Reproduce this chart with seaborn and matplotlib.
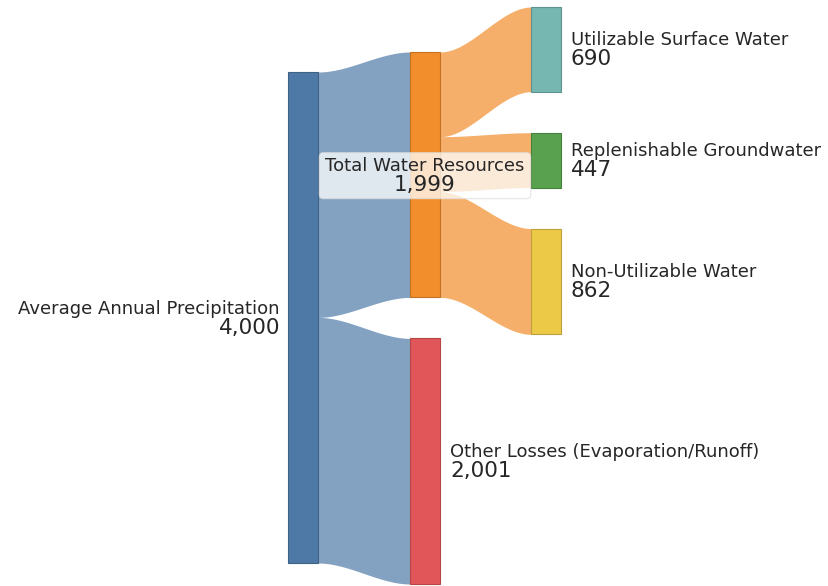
import matplotlib

matplotlib.use("Agg", force=True)

import matplotlib.pyplot as plt
import seaborn as sns
import numpy as np
from matplotlib.patches import FancyBboxPatch

# Sankey data
nodes = ["Average Annual Precipitation", "Total Water Resources",
         "Other Losses (Evaporation/Runoff)", "Utilizable Surface Water",
         "Replenishable Groundwater", "Non-Utilizable Water"]
node_column = [0, 1, 1, 2, 2, 2]
link_source = [0, 0, 1, 1, 1]
link_target = [1, 2, 3, 4, 5]
link_value = [1999, 2001, 690, 447, 862]

node_colors = ["#4e79a7", "#f28e2b", "#e15759", "#76b7b2", "#59a14f", "#edc948"]

sns.set_theme(style="white")
plt.rcParams["font.family"] = ["DejaVu Sans"]

fig = plt.figure(figsize=(8.29, 5.86), dpi=100)
ax = fig.add_axes([0, 0, 1, 1])
ax.set_xlim(0, 829)
ax.set_ylim(586, 0)
ax.axis("off")

# layout (pixel space)
k = 491 / 4000.0          # pixels per unit
col_x = [288, 410, 531]
col_top = [72, 52, 7]
node_w = 30
gap = 41

n = len(nodes)
val_in = np.zeros(n)
val_out = np.zeros(n)
for s, t, v in zip(link_source, link_target, link_value):
    val_out[s] += v
    val_in[t] += v
node_val = np.maximum(val_in, val_out)

node_y = np.zeros(n)
node_h = node_val * k
cursor = list(col_top)
for i in range(n):
    c = node_column[i]
    node_y[i] = cursor[c]
    cursor[c] += node_h[i] + gap


def darker(col, f=0.8):
    r, g, b = matplotlib.colors.to_rgb(col)
    return (r * f, g * f, b * f)


# links
src_off = np.zeros(n)
tgt_off = np.zeros(n)
for s, t, v in zip(link_source, link_target, link_value):
    h = v * k
    x0 = col_x[node_column[s]] + node_w
    x1 = col_x[node_column[t]]
    y0 = node_y[s] + src_off[s]
    y1 = node_y[t] + tgt_off[t]
    src_off[s] += h
    tgt_off[t] += h
    xs = np.linspace(x0, x1, 100)
    tt = (xs - x0) / (x1 - x0)
    ease = 3 * tt ** 2 - 2 * tt ** 3
    top = y0 + (y1 - y0) * ease
    ax.fill_between(xs, top, top + h, color=node_colors[s], alpha=0.7,
                    linewidth=0, zorder=1)

# nodes
for i in range(n):
    ax.add_patch(plt.Rectangle((col_x[node_column[i]], node_y[i]), node_w, node_h[i],
                               facecolor=node_colors[i], edgecolor=darker(node_colors[i]),
                               linewidth=0.8, zorder=2))

# labels
for i in range(n):
    c = node_column[i]
    cy = node_y[i] + node_h[i] / 2
    value_txt = f"{int(node_val[i]):,}"
    if c == 0:
        x, ha = col_x[c] - 8, "right"
    elif i == 1:
        x, ha = col_x[c] + node_w / 2, "center"
    else:
        x, ha = col_x[c] + node_w + 10, "left"
    t1 = ax.text(x, cy - 4, nodes[i], ha=ha, va="baseline", fontsize=13,
                 color="#262626", zorder=4)
    t2 = ax.text(x, cy + 16, value_txt, ha=ha, va="baseline", fontsize=15.5,
                 color="#262626", zorder=4)
    if i == 1:
        fig.canvas.draw()
        r = fig.canvas.get_renderer()
        inv = ax.transData.inverted()
        b1 = t1.get_window_extent(r)
        b2 = t2.get_window_extent(r)
        (xa, ya) = inv.transform((min(b1.x0, b2.x0), min(b1.y0, b2.y0)))
        (xb, yb) = inv.transform((max(b1.x1, b2.x1), max(b1.y1, b2.y1)))
        px, py = 6, 4
        box = FancyBboxPatch((min(xa, xb) - px, min(ya, yb) - py),
                             abs(xb - xa) + 2 * px, abs(yb - ya) + 2 * py,
                             boxstyle="round,pad=0,rounding_size=4",
                             facecolor="white", edgecolor="#dddddd", alpha=0.75,
                             linewidth=0.8, zorder=3)
        ax.add_patch(box)

fig.savefig("out.png", dpi=100)
